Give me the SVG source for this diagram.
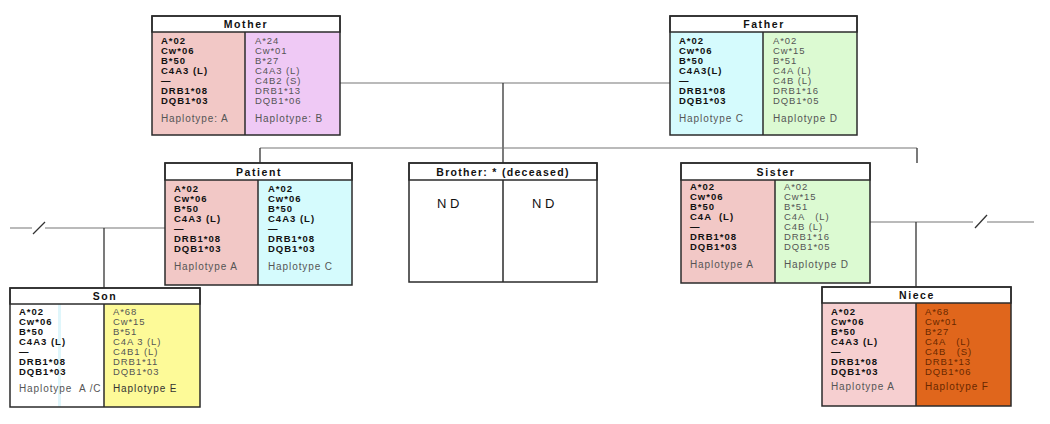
<svg xmlns="http://www.w3.org/2000/svg" width="1050" height="424" viewBox="0 0 1050 424">
<style>
text{font-family:"Liberation Sans",Arial,sans-serif;font-size:9.5px;}
.hd{font-weight:bold;font-size:10.5px;letter-spacing:1.6px;fill:#111;text-anchor:middle;}
.b{font-weight:bold;fill:#111;letter-spacing:1px;}
.g{fill:#555;letter-spacing:0.9px;}
.o{fill:#6a2800;letter-spacing:0.9px;}
.hp{fill:#555;letter-spacing:0.9px;font-size:10px;}
.nd{font-size:13px;letter-spacing:3.5px;fill:#111;}
.box{fill:none;stroke:#2b2b2b;stroke-width:1.5;}
.hbar{fill:#fff;stroke:#2b2b2b;stroke-width:1.5;}
.ln{stroke:#333;stroke-width:1.3;fill:none;}
.thin{stroke:#777;stroke-width:1.2;fill:none;}
</style>
<rect width="1050" height="424" fill="#fff"/>

<g id="connectors">
<path class="thin" d="M340 83H670"/>
<path class="ln" d="M503 83V163"/>
<path class="thin" d="M260 148H917"/>
<path class="ln" d="M260 148V163M917 148V163"/>
<path class="thin" d="M10 228H32M45 228H165"/>
<path class="ln" d="M33 234L45 222"/>
<path class="ln" d="M104 228V288"/>
<path class="thin" d="M870 222H973M987 222H1034"/>
<path class="ln" d="M975 228L987 215"/>
<path class="ln" d="M916 222V287"/>
</g>

<g id="mother">
<rect x="152" y="32" width="93" height="103" fill="#f2c8c6"/>
<rect x="245" y="32" width="95" height="103" fill="#efc9f5"/>
<rect class="hbar" x="152" y="16" width="188" height="16"/>
<rect class="box" x="152" y="16" width="188" height="119"/>
<path class="box" d="M245 32V135"/>
<text class="hd" x="246" y="28">Mother</text>
<text class="b"><tspan x="161" y="44">A*02</tspan><tspan x="161" y="54">Cw*06</tspan><tspan x="161" y="64">B*50</tspan><tspan x="161" y="74">C4A3 (L)</tspan><tspan x="161" y="84">—</tspan><tspan x="161" y="94">DRB1*08</tspan><tspan x="161" y="104">DQB1*03</tspan></text>
<text class="hp" x="161" y="122">Haplotype: A</text>
<text class="g"><tspan x="255" y="44">A*24</tspan><tspan x="255" y="54">Cw*01</tspan><tspan x="255" y="64">B*27</tspan><tspan x="255" y="74">C4A3 (L)</tspan><tspan x="255" y="84">C4B2 (S)</tspan><tspan x="255" y="94">DRB1*13</tspan><tspan x="255" y="104">DQB1*06</tspan></text>
<text class="hp" x="255" y="122">Haplotype: B</text>
</g>

<g id="father">
<rect x="670" y="32" width="93" height="103" fill="#d5fbfd"/>
<rect x="763" y="32" width="94" height="103" fill="#dcfad2"/>
<rect class="hbar" x="670" y="16" width="187" height="16"/>
<rect class="box" x="670" y="16" width="187" height="119"/>
<path class="box" d="M763 32V135"/>
<text class="hd" x="764" y="28">Father</text>
<text class="b"><tspan x="679" y="44">A*02</tspan><tspan x="679" y="54">Cw*06</tspan><tspan x="679" y="64">B*50</tspan><tspan x="679" y="74">C4A3(L)</tspan><tspan x="679" y="84">—</tspan><tspan x="679" y="94">DRB1*08</tspan><tspan x="679" y="104">DQB1*03</tspan></text>
<text class="hp" x="679" y="122">Haplotype C</text>
<text class="g"><tspan x="773" y="44">A*02</tspan><tspan x="773" y="54">Cw*15</tspan><tspan x="773" y="64">B*51</tspan><tspan x="773" y="74">C4A (L)</tspan><tspan x="773" y="84">C4B (L)</tspan><tspan x="773" y="94">DRB1*16</tspan><tspan x="773" y="104">DQB1*05</tspan></text>
<text class="hp" x="773" y="122">Haplotype D</text>
</g>

<g id="patient">
<rect x="165" y="180" width="93" height="105" fill="#f2c8c6"/>
<rect x="258" y="180" width="94" height="105" fill="#d5fbfd"/>
<rect class="hbar" x="165" y="163" width="187" height="17"/>
<rect class="box" x="165" y="163" width="187" height="122"/>
<path class="box" d="M258 180V285"/>
<text class="hd" x="259" y="176">Patient</text>
<text class="b"><tspan x="174" y="192">A*02</tspan><tspan x="174" y="202">Cw*06</tspan><tspan x="174" y="212">B*50</tspan><tspan x="174" y="222">C4A3 (L)</tspan><tspan x="174" y="232">—</tspan><tspan x="174" y="242">DRB1*08</tspan><tspan x="174" y="252">DQB1*03</tspan></text>
<text class="hp" x="174" y="270">Haplotype A</text>
<text class="b"><tspan x="268" y="192">A*02</tspan><tspan x="268" y="202">Cw*06</tspan><tspan x="268" y="212">B*50</tspan><tspan x="268" y="222">C4A3 (L)</tspan><tspan x="268" y="232">—</tspan><tspan x="268" y="242">DRB1*08</tspan><tspan x="268" y="252">DQB1*03</tspan></text>
<text class="hp" x="268" y="270">Haplotype C</text>
</g>

<g id="brother">
<rect class="hbar" x="409" y="163" width="188" height="17"/>
<rect class="box" x="409" y="163" width="188" height="119"/>
<path class="box" d="M503 180V282"/>
<text class="hd" x="503" y="176" style="letter-spacing:1.3px">Brother: * (deceased)</text>
<text class="nd" x="437" y="208">ND</text>
<text class="nd" x="532" y="208">ND</text>
</g>

<g id="sister">
<rect x="681" y="180" width="94" height="103" fill="#f2c8c6"/>
<rect x="775" y="180" width="95" height="103" fill="#dcfad2"/>
<rect class="hbar" x="681" y="163" width="189" height="17"/>
<rect class="box" x="681" y="163" width="189" height="120"/>
<path class="box" d="M775 180V283"/>
<text class="hd" x="776" y="176">Sister</text>
<text class="b" xml:space="preserve"><tspan x="690" y="190">A*02</tspan><tspan x="690" y="200">Cw*06</tspan><tspan x="690" y="210">B*50</tspan><tspan x="690" y="220">C4A  (L)</tspan><tspan x="690" y="230">—</tspan><tspan x="690" y="240">DRB1*08</tspan><tspan x="690" y="250">DQB1*03</tspan></text>
<text class="hp" x="690" y="268">Haplotype A</text>
<text class="g" xml:space="preserve"><tspan x="784" y="190">A*02</tspan><tspan x="784" y="200">Cw*15</tspan><tspan x="784" y="210">B*51</tspan><tspan x="784" y="220">C4A   (L)</tspan><tspan x="784" y="230">C4B (L)</tspan><tspan x="784" y="240">DRB1*16</tspan><tspan x="784" y="250">DQB1*05</tspan></text>
<text class="hp" x="784" y="268">Haplotype D</text>
</g>

<g id="son">
<rect x="10" y="304" width="94" height="103" fill="#fff"/>
<rect x="58" y="304" width="3" height="103" fill="#dff6fb"/>
<rect x="104" y="304" width="96" height="103" fill="#fdfa98"/>
<rect class="hbar" x="10" y="288" width="190" height="16"/>
<rect class="box" x="10" y="288" width="190" height="119"/>
<path class="box" d="M104 304V407"/>
<text class="hd" x="105" y="300">Son</text>
<text class="b"><tspan x="19" y="315">A*02</tspan><tspan x="19" y="325">Cw*06</tspan><tspan x="19" y="335">B*50</tspan><tspan x="19" y="345">C4A3 (L)</tspan><tspan x="19" y="355">—</tspan><tspan x="19" y="365">DRB1*08</tspan><tspan x="19" y="375">DQB1*03</tspan></text>
<text class="hp" x="19" y="392" xml:space="preserve">Haplotype  A /C</text>
<text class="g"><tspan x="113" y="315">A*68</tspan><tspan x="113" y="325">Cw*15</tspan><tspan x="113" y="335">B*51</tspan><tspan x="113" y="345">C4A 3 (L)</tspan><tspan x="113" y="355">C4B1 (L)</tspan><tspan x="113" y="365">DRB1*11</tspan><tspan x="113" y="375">DQB1*03</tspan></text>
<text class="hp" x="113" y="392" style="fill:#333">Haplotype E</text>
</g>

<g id="niece">
<rect x="822" y="303" width="94" height="103" fill="#f6cfd0"/>
<rect x="916" y="303" width="95" height="103" fill="#e0661c"/>
<rect class="hbar" x="822" y="287" width="189" height="16"/>
<rect class="box" x="822" y="287" width="189" height="119"/>
<path class="box" d="M916 303V406"/>
<text class="hd" x="917" y="299">Niece</text>
<text class="b"><tspan x="831" y="315">A*02</tspan><tspan x="831" y="325">Cw*06</tspan><tspan x="831" y="335">B*50</tspan><tspan x="831" y="345">C4A3 (L)</tspan><tspan x="831" y="355">—</tspan><tspan x="831" y="365">DRB1*08</tspan><tspan x="831" y="375">DQB1*03</tspan></text>
<text class="hp" x="831" y="390">Haplotype A</text>
<text class="o" xml:space="preserve"><tspan x="925" y="315">A*68</tspan><tspan x="925" y="325">Cw*01</tspan><tspan x="925" y="335">B*27</tspan><tspan x="925" y="345">C4A   (L)</tspan><tspan x="925" y="355">C4B   (S)</tspan><tspan x="925" y="365">DRB1*13</tspan><tspan x="925" y="375">DQB1*06</tspan></text>
<text class="o" x="925" y="390" style="letter-spacing:0.9px;font-size:10px">Haplotype F</text>
</g>
</svg>
